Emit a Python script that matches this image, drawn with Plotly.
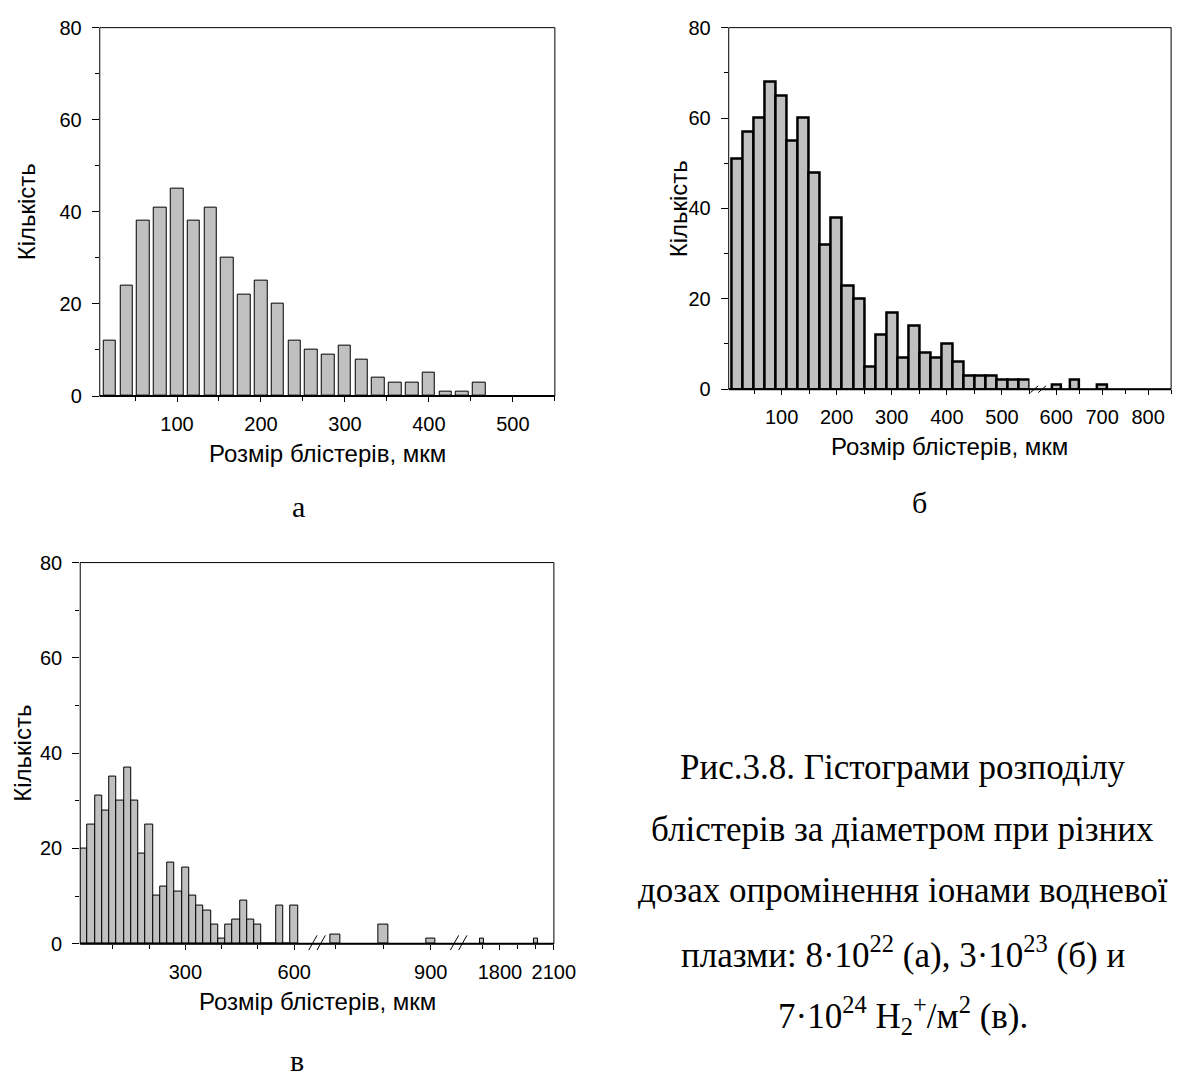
import plotly.graph_objects as go

# ---------------- data ----------------
# panel а
a_bins = [20, 40, 60, 80, 100, 120, 140, 160, 180, 200, 220, 240, 260, 280, 300,
          320, 340, 360, 380, 400, 420, 440, 460]
a_counts = [12, 24, 38, 41, 45, 38, 41, 30, 22, 25, 20, 12, 10, 9, 11,
            8, 4, 3, 3, 5, 1, 1, 3]

# panel б
b_bins = [20, 40, 60, 80, 100, 120, 140, 160, 180, 200, 220, 240, 260, 280, 300,
          320, 340, 360, 380, 400, 420, 440, 460, 480, 500, 520, 540,
          600, 640, 700]
b_counts = [51, 57, 60, 68, 65, 55, 60, 48, 32, 38, 23, 20, 5, 12, 17,
            7, 14, 8, 7, 10, 6, 3, 3, 3, 2, 2, 2,
            1, 2, 1]

# panel в
c_bins = [20, 40, 60, 80, 100, 120, 140, 160, 180, 200, 220, 240, 260, 280, 300,
          320, 340, 360, 380, 400, 420, 440, 460, 480, 500, 520, 540, 560, 580, 600,
          700, 800, 900, 1700, 2000]
c_counts = [20, 25, 31, 28, 35, 30, 37, 30, 19, 25, 10, 12, 17, 11, 16,
            10, 8, 7, 4, 1, 4, 5, 9, 5, 4, 0, 0, 8, 0, 8,
            2, 4, 1, 1, 1]

y_ticks = [0, 20, 40, 60, 80]
x_title = "Розмір блістерів, мкм"
y_title = "Кількість"
panel_labels = ["а", "б", "в"]
caption_lines = [
    "Рис.3.8. Гістограми розподілу",
    "блістерів за діаметром при різних",
    "дозах опромінення іонами водневої",
    "плазми: 8·10<sup>22</sup> (а), 3·10<sup>23</sup> (б) и",
    "7·10<sup>24</sup> H<sub>2</sub><sup>+</sup>/м<sup>2</sup> (в).",
]

# ---------------- layout helpers ----------------
W, H = 1198, 1084
def px(x):
    return x / W
def py(y):
    return 1 - y / H

SANS = "Liberation Sans, Arial, sans-serif"
SERIF = "Liberation Serif, Times New Roman, serif"
TICKFONT = dict(family=SANS, size=20, color="black")
TITLEFONT = dict(family=SANS, size=24, color="black")
FILL = "#c0c0c0"

fig = go.Figure()
layout = dict(
    width=W, height=H, margin=dict(l=0, r=0, t=0, b=0),
    paper_bgcolor="white", plot_bgcolor="white", showlegend=False,
    bargap=0, barmode="overlay",
)
shapes = []
annotations = []

def yaxis_cfg(top, bottom, visible=True):
    d = dict(domain=[py(bottom), py(top)], range=[0, 80], tickvals=y_ticks,
             ticks="outside", ticklen=7, tickcolor="black", tickwidth=1,
             minor=dict(dtick=10, tick0=0, ticks="outside", ticklen=4, tickcolor="black"),
             showgrid=False, zeroline=False, showline=False,
             tickfont=TICKFONT, fixedrange=True, ticklabelstandoff=6)
    if not visible:
        d.update(showticklabels=False, ticks="", minor=dict(ticks=""))
    return d

def xaxis_cfg(left, right, rng, tickvals, minor_dtick, anchor):
    return dict(domain=[px(left), px(right)], range=rng, tickvals=tickvals,
                ticks="outside", ticklen=5, tickcolor="black", tickwidth=1,
                minor=dict(dtick=minor_dtick, tick0=0, ticks="outside", ticklen=4,
                           tickcolor="black"),
                showgrid=False, zeroline=False, showline=False,
                tickfont=TICKFONT, anchor=anchor, fixedrange=True,
                ticklabelstandoff=5)

def add_bars(bins, counts, lo, hi, xa, ya, width, line_w):
    xs = [b for b, c in zip(bins, counts) if lo <= b <= hi]
    ys = [c for b, c in zip(bins, counts) if lo <= b <= hi]
    fig.add_trace(go.Bar(x=xs, y=ys, width=width, xaxis=xa, yaxis=ya,
                         marker=dict(color=FILL, line=dict(color="black", width=line_w))))

def frame(left, top, right, bottom):
    shapes.append(dict(type="rect", xref="paper", yref="paper",
                       x0=px(left), x1=px(right), y0=py(bottom), y1=py(top),
                       line=dict(color="black", width=1)))
    shapes.append(dict(type="line", xref="paper", yref="paper",
                       x0=px(left), x1=px(right), y0=py(bottom), y1=py(bottom),
                       line=dict(color="black", width=2)))

def brk(x, y, w, h):
    for dx in (0, w):
        shapes.append(dict(type="line", xref="paper", yref="paper",
                           x0=px(x + dx), x1=px(x + dx + w), y0=py(y + h / 2), y1=py(y - h / 2),
                           line=dict(color="black", width=1)))

def titles(left, right, top, bottom, ytx, label_x, label_y, label):
    annotations.append(dict(text=x_title, xref="paper", yref="paper",
                            x=px((left + right) / 2), y=py(bottom + 59), showarrow=False,
                            xanchor="center", yanchor="middle", font=TITLEFONT))
    annotations.append(dict(text=y_title, xref="paper", yref="paper",
                            x=px(ytx), y=py((top + bottom) / 2), showarrow=False,
                            textangle=-90, xanchor="center", yanchor="middle",
                            font=TITLEFONT))
    annotations.append(dict(text=label, xref="paper", yref="paper",
                            x=px(label_x), y=py(label_y), showarrow=False,
                            xanchor="center", yanchor="middle",
                            font=dict(family=SERIF, size=30, color="black")))

# ---------------- panel а ----------------
A = (96, 17, 562, 393)
layout["xaxis"] = xaxis_cfg(A[0], A[2], [8, 550], [100, 200, 300, 400, 500], 50, "y")
layout["yaxis"] = yaxis_cfg(A[1], A[3])
add_bars(a_bins, a_counts, 0, 550, "x", "y", 15, 1)
frame(*A)
titles(A[0], A[2], A[1], A[3], 21, 299, 506, panel_labels[0])

# ---------------- panel б (broken axis) ----------------
B = (740, 17, 1193, 386)
b_seg = [(740, 1048, [4, 550], [100, 200, 300, 400, 500]),
         (1065, 1193, [578, 850], [600, 700, 800])]
for i, (l, r, rng, tv) in enumerate(b_seg):
    n = 2 + i
    layout[f"xaxis{n}"] = xaxis_cfg(l, r, rng, tv, 50, f"y{n}")
    layout[f"yaxis{n}"] = yaxis_cfg(B[1], B[3], visible=(i == 0))
    layout[f"yaxis{n}"]["anchor"] = f"x{n}"
    add_bars(b_bins, b_counts, rng[0], rng[1], f"x{n}", f"y{n}", 20, 2.5)
frame(*B)
brk(1049, 386, 8, 7)
titles(B[0], B[2], B[1], B[3], 688, 935, 502, panel_labels[1])

# ---------------- panel в (broken axis) ----------------
C = (76, 563, 561, 952)
c_seg = [(76, 310, [10, 640], [300, 600]),
         (327, 455, [679, 941], [900]),
         (472, 561, [1616, 2100.5], [1800, 2100])]
for i, (l, r, rng, tv) in enumerate(c_seg):
    n = 4 + i
    layout[f"xaxis{n}"] = xaxis_cfg(l, r, rng, tv, 100, f"y{n}")
    layout[f"yaxis{n}"] = yaxis_cfg(C[1], C[3], visible=(i == 0))
    layout[f"yaxis{n}"]["anchor"] = f"x{n}"
    add_bars(c_bins, c_counts, rng[0], rng[1], f"x{n}", f"y{n}", 20, 1)
frame(*C)
brk(310, 951, 8.5, 15)
brk(455, 951, 8.5, 15)
titles(C[0], C[2], C[1], C[3], 17, 298, 1071, panel_labels[2])

# ---------------- caption ----------------
cap_y = [772, 835, 898, 961, 1025]
for line, yy in zip(caption_lines, cap_y):
    annotations.append(dict(text=line, xref="paper", yref="paper",
                            x=px(918), y=py(yy), showarrow=False,
                            xanchor="center", yanchor="middle",
                            font=dict(family=SERIF, size=35, color="black")))

layout["shapes"] = shapes
layout["annotations"] = annotations
fig.update_layout(**layout)
fig.write_html("out.html")
